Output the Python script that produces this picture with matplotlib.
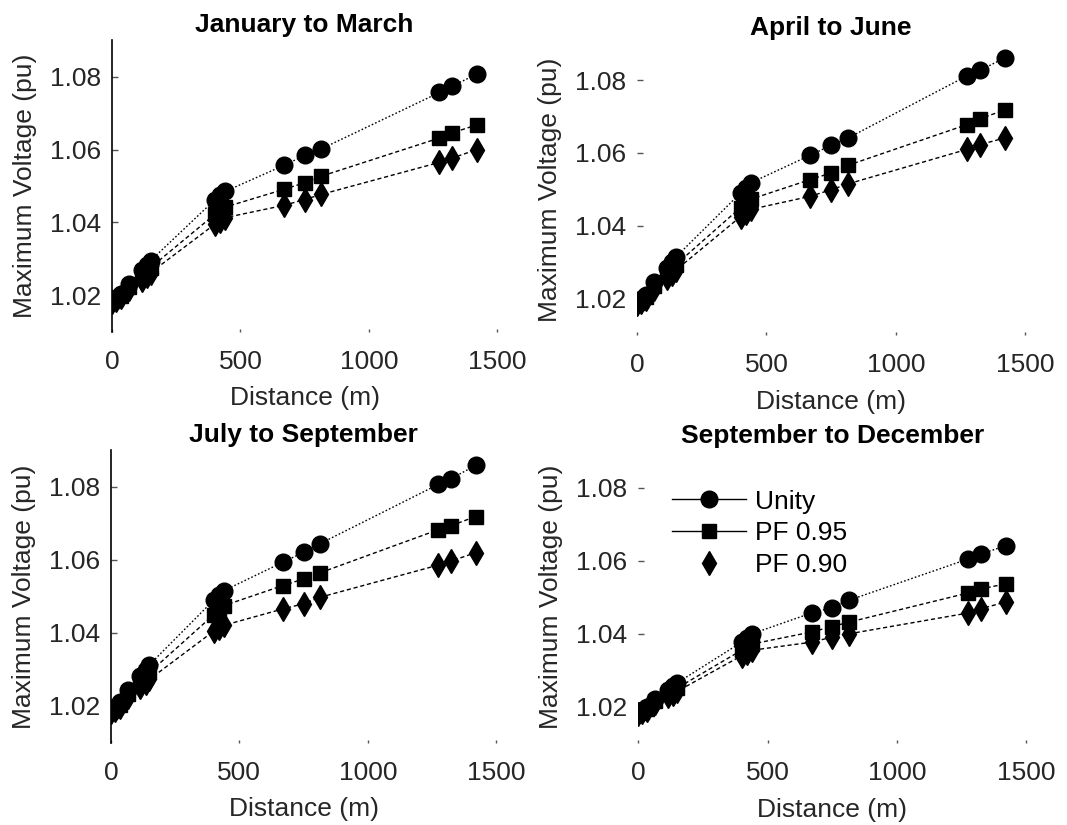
import matplotlib.pyplot as plt
from matplotlib.lines import Line2D

plt.rcParams['font.family'] = ['Liberation Sans', 'DejaVu Sans']

distance = [0, 15, 35, 65, 115, 135, 150, 400, 420, 440, 670, 750, 815, 1275, 1325, 1420]

titles = ["January to March", "April to June", "July to September", "September to December"]

unity_q1 = [1.0185, 1.0192, 1.0203, 1.0232, 1.0268, 1.0282, 1.0295, 1.0462, 1.0475, 1.0485, 1.0557, 1.0584, 1.0602, 1.0757, 1.0775, 1.0807]
pf95_q1 = [1.0183, 1.0189, 1.0198, 1.0223, 1.0253, 1.0265, 1.0276, 1.0422, 1.0433, 1.0442, 1.0491, 1.0509, 1.0527, 1.0632, 1.0646, 1.0668]
pf90_q1 = [1.0181, 1.0186, 1.0194, 1.0216, 1.0242, 1.0252, 1.0262, 1.0395, 1.0405, 1.0413, 1.0447, 1.0463, 1.0477, 1.0565, 1.0577, 1.0600]

unity_q2 = [1.0190, 1.0198, 1.0210, 1.0245, 1.0285, 1.0300, 1.0314, 1.0490, 1.0505, 1.0518, 1.0594, 1.0621, 1.0641, 1.0812, 1.0827, 1.0861]
pf95_q2 = [1.0187, 1.0194, 1.0204, 1.0234, 1.0268, 1.0281, 1.0293, 1.0450, 1.0463, 1.0473, 1.0527, 1.0545, 1.0566, 1.0678, 1.0694, 1.0718]
pf90_q2 = [1.0184, 1.0190, 1.0199, 1.0226, 1.0256, 1.0268, 1.0278, 1.0425, 1.0436, 1.0445, 1.0481, 1.0499, 1.0515, 1.0610, 1.0623, 1.0641]

unity_q3 = [1.0190, 1.0198, 1.0210, 1.0245, 1.0283, 1.0298, 1.0313, 1.0490, 1.0505, 1.0516, 1.0594, 1.0621, 1.0645, 1.0807, 1.0823, 1.0859]
pf95_q3 = [1.0187, 1.0194, 1.0204, 1.0234, 1.0267, 1.0280, 1.0292, 1.0450, 1.0463, 1.0475, 1.0530, 1.0548, 1.0565, 1.0683, 1.0694, 1.0719]
pf90_q3 = [1.0184, 1.0190, 1.0198, 1.0224, 1.0252, 1.0263, 1.0273, 1.0405, 1.0413, 1.0421, 1.0466, 1.0480, 1.0498, 1.0586, 1.0597, 1.0620]

unity_q4 = [1.0184, 1.0190, 1.0200, 1.0222, 1.0247, 1.0257, 1.0265, 1.0377, 1.0388, 1.0400, 1.0457, 1.0472, 1.0492, 1.0605, 1.0619, 1.0641]
pf95_q4 = [1.0182, 1.0187, 1.0195, 1.0215, 1.0236, 1.0244, 1.0251, 1.0355, 1.0363, 1.0372, 1.0405, 1.0420, 1.0432, 1.0512, 1.0523, 1.0537]
pf90_q4 = [1.0180, 1.0185, 1.0192, 1.0210, 1.0229, 1.0236, 1.0242, 1.0340, 1.0347, 1.0355, 1.0377, 1.0391, 1.0400, 1.0457, 1.0469, 1.0487]

series = [
    (unity_q1, pf95_q1, pf90_q1),
    (unity_q2, pf95_q2, pf90_q2),
    (unity_q3, pf95_q3, pf90_q3),
    (unity_q4, pf95_q4, pf90_q4),
]

x_ticks = [0, 500, 1000, 1500]
y_ticks = [1.02, 1.04, 1.06, 1.08]
legend_labels = ["Unity", "PF 0.95", "PF 0.90"]

FS = 19
TXT = '#262626'

fig = plt.figure(figsize=(10.67, 8.25), dpi=100)
# axes boxes in figure fractions (left, bottom, width, height)
boxes = [
    (0.105, 0.598, 0.361, 0.353),
    (0.597, 0.594, 0.364, 0.353),
    (0.104, 0.100, 0.361, 0.354),
    (0.598, 0.099, 0.364, 0.354),
]

for i, (box, (unity, pf95, pf90)) in enumerate(zip(boxes, series)):
    ax = fig.add_axes(box)
    ax.plot(distance, unity, color='black', lw=1, linestyle=(0, (1.2, 1.5)),
            marker='o', markersize=12)
    ax.plot(distance, pf95, color='black', lw=1, linestyle=(0, (3, 2)),
            marker='s', markersize=10)
    ax.plot(distance, pf90, color='black', lw=1, linestyle=(0, (3, 2)),
            marker='d', markersize=12)

    ax.set_xlim(0, 1500)
    ax.set_ylim(1.01, 1.09)
    ax.set_xticks(x_ticks)
    ax.set_yticks(y_ticks)
    ax.set_yticklabels([f"{v:.2f}" for v in y_ticks])

    for s in ['top', 'right', 'bottom']:
        ax.spines[s].set_visible(False)
    # right column shows no y axis line in the original
    ax.spines['left'].set_visible(i % 2 == 0)
    ax.spines['left'].set_linewidth(1.2)

    ax.tick_params(axis='x', direction='in', length=2, width=1, pad=13,
                   labelsize=FS, labelcolor=TXT, color='#555555')
    ax.tick_params(axis='y', direction='in', length=4, width=1, pad=8,
                   labelsize=FS, labelcolor=TXT, color='#555555')

    ax.set_title(titles[i], fontsize=FS, fontweight='bold', pad=6, color='black')
    ax.set_xlabel("Distance (m)", fontsize=FS, color=TXT, labelpad=9)
    ax.set_ylabel("Maximum Voltage (pu)", fontsize=FS, color=TXT, labelpad=9)

    if i == 3:
        handles = [
            Line2D([], [], color='black', lw=1, marker='o', markersize=12),
            Line2D([], [], color='black', lw=1, marker='s', markersize=10),
            Line2D([], [], color='none', marker='d', markersize=12,
                   markerfacecolor='black', markeredgecolor='black'),
        ]
        ax.legend(handles, legend_labels, loc='upper left', bbox_to_anchor=(0.06, 0.905),
                  frameon=False, fontsize=FS, handlelength=2.8, handletextpad=0.35,
                  labelspacing=0.3, borderaxespad=0)

fig.savefig('out.png', dpi=100)
